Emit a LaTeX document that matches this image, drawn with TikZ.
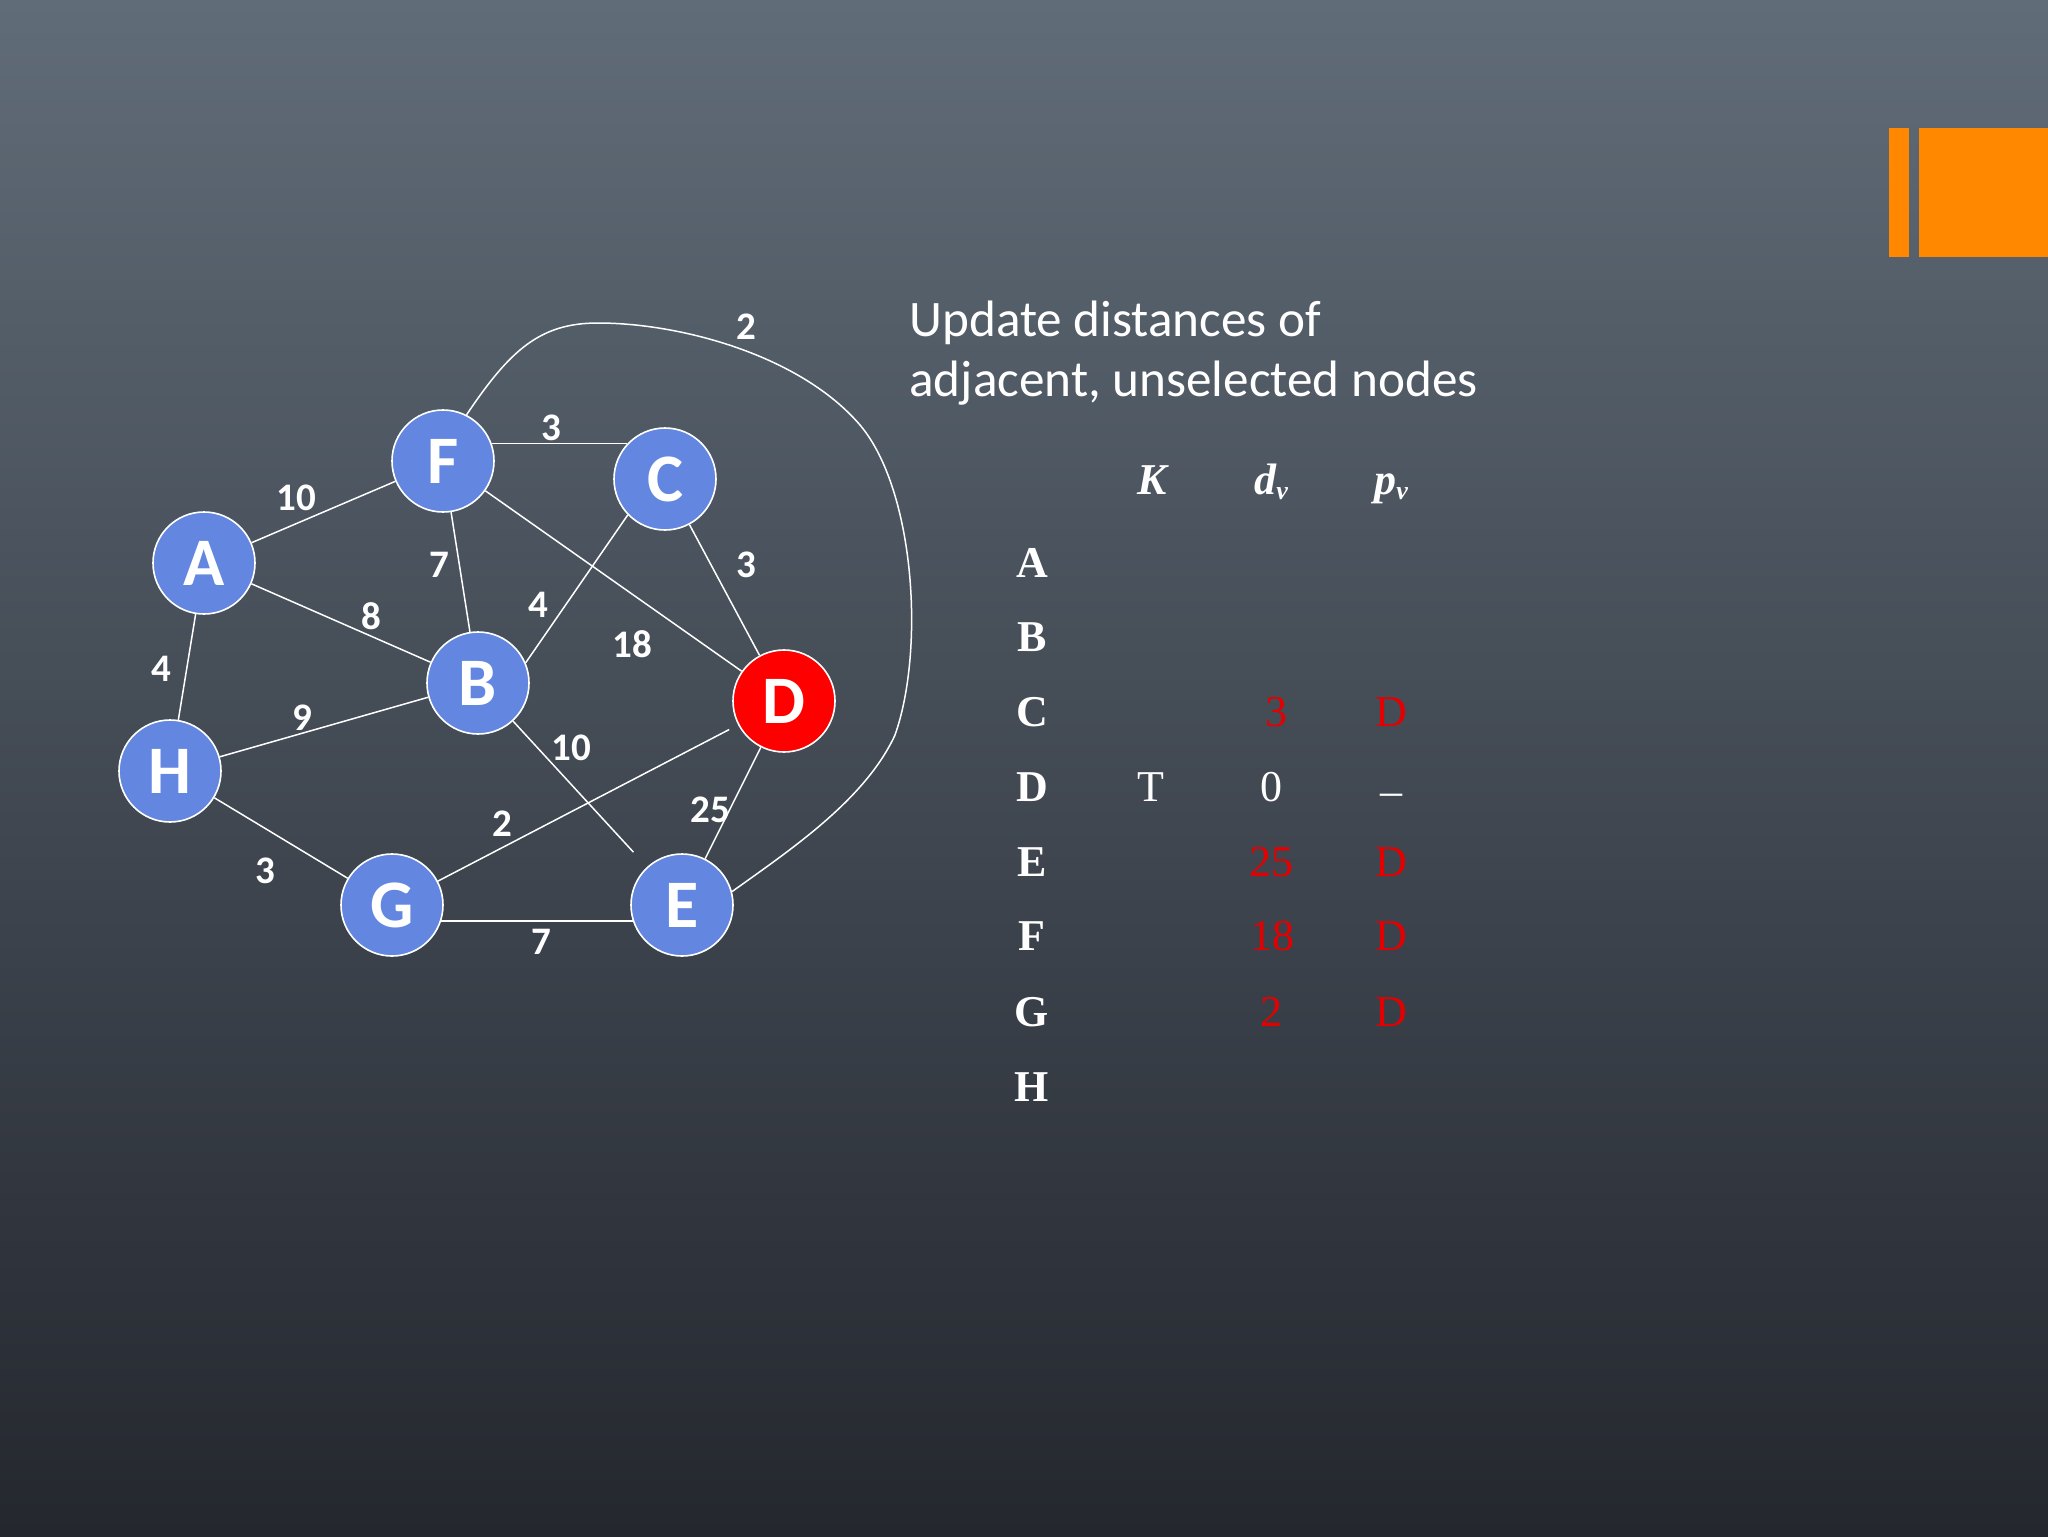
\documentclass[tikz,border=0pt]{standalone}
\usepackage{fontspec}
\setmainfont{Liberation Serif}
\newfontfamily\calib{Carlito}
\definecolor{bgtop}{RGB}{96,108,120}
\definecolor{bgmid}{RGB}{66,73,83}
\definecolor{bgbot}{RGB}{36,39,46}
\definecolor{nodeblue}{RGB}{99,135,224}
\definecolor{dred}{RGB}{255,0,0}
\definecolor{tred}{RGB}{228,0,0}
\definecolor{orng}{RGB}{255,136,0}
\begin{document}
\begin{tikzpicture}[x=0.5pt,y=-0.5pt,
 vtx/.style={circle,minimum size=51pt,inner sep=0pt,fill=nodeblue,draw=white,line width=0.8pt,text=white,font=\calib\bfseries\fontsize{34}{34}\selectfont},
 edge/.style={draw=white,line width=0.75pt},
 wt/.style={text=white,font=\calib\bfseries\fontsize{19.5}{19.5}\selectfont,inner sep=0pt},
 title/.style={text=white,font=\calib\fontsize{25.6}{25.6}\selectfont,anchor=base west,inner sep=0pt},
 rowlab/.style={text=white,font=\bfseries\fontsize{22}{22}\selectfont,anchor=base,inner sep=0pt},
 hdr/.style={text=white,font=\bfseries\itshape\fontsize{22}{22}\selectfont,anchor=base,inner sep=0pt},
 cell/.style={font=\fontsize{22}{22}\selectfont,anchor=base,inner sep=0pt}]
\useasboundingbox (0,0) rectangle (2048,1536);
\shade[top color=bgtop,middle color=bgmid,bottom color=bgbot] (0,0) rectangle (2048,1536);
% orange decoration
\fill[orng] (1889,128) rectangle (1909,257);
\fill[orng] (1919,128) rectangle (2048,257);
% vertices
\node[vtx] (F) at (443,461) {F};
\node[vtx] (C) at (665,479) {C};
\node[vtx] (A) at (204,563) {A};
\node[vtx] (B) at (478,683) {B};
\node[vtx,fill=dred] (D) at (784,701) {D};
\node[vtx] (H) at (170,771) {H};
\node[vtx] (G) at (392,905) {G};
\node[vtx] (E) at (682,905) {E};
% edges
\draw[edge] (A) -- (F);
\draw[edge] (F.20) -- (F.20 -| C.137);
\draw[edge] (F) -- (B);
\draw[edge] (F) -- (D);
\draw[edge] (A) -- (B);
\draw[edge] (C.-136) -- (B.23);
\draw[edge] (C) -- (D);
\draw[edge] (A) -- (H);
\draw[edge] (H) -- (B);
\draw[edge,shorten >=10pt] (B) -- (E);
\draw[edge] (D) -- (E);
\draw[edge,shorten >=5pt] (G) -- (D);
\draw[edge] (H) -- (G);
\draw[edge] (G.-18) -- (E.198);
\draw[edge] (F.63) .. controls (510,350) and (540,323) .. (598,323)
  .. controls (680,323) and (800,355) .. (860,425)
  .. controls (915,490) and (925,650) .. (895,735)
  .. controls (865,800) and (790,850) .. (E.15);
% weights
\node[wt] (wAF) at (296,498) {10};
\node[wt] (wFC) at (551,428) {3};
\node[wt] (wFE) at (746,327) {2};
\node[wt] (wFB) at (439,565) {7};
\node[wt] (wCD) at (746,565) {3};
\node[wt] (wAB) at (371,616) {8};
\node[wt] (wCB) at (538,605) {4};
\node[wt] (wFD) at (632,644) {18};
\node[wt] (wAH) at (161,669) {4};
\node[wt] (wHB) at (302,718) {9};
\node[wt] (wBE) at (571,748) {10};
\node[wt] (wDE) at (710,810) {25};
\node[wt] (wGD) at (502,824) {2};
\node[wt] (wHG) at (265,871) {3};
\node[wt] (wGE) at (541,942) {7};
% title
\node[title] (t1) at (909,336) {Update distances of};
\node[title] (t2) at (909,396) {adjacent, unselected nodes};
% table header
\node[hdr] (hK) at (1152,494) {K};
\node[hdr] (hd) at (1271,494) {d\raisebox{-0.25ex}{\fontsize{13}{13}\selectfont v}};
\node[hdr] (hp) at (1391,494) {p\raisebox{-0.25ex}{\fontsize{13}{13}\selectfont v}};
% row labels
\node[rowlab] (rA) at (1032,577) {A};
\node[rowlab] (rB) at (1032,651) {B};
\node[rowlab] (rC) at (1032,726) {C};
\node[rowlab] (rD) at (1032,801) {D};
\node[rowlab] (rE) at (1032,876) {E};
\node[rowlab] (rF) at (1032,950) {F};
\node[rowlab] (rG) at (1032,1026) {G};
\node[rowlab] (rH) at (1032,1101) {H};
% cells
\node[cell,text=tred] (dC) at (1276,726) {3};
\node[cell,text=tred] (pC) at (1391,726) {D};
\node[cell,text=white] (kD) at (1151,801) {T};
\node[cell,text=white] (dD) at (1271,801) {0};
\node[cell,text=white] (pD) at (1391,801) {\raisebox{-2pt}{–}};
\node[cell,text=tred] (dE) at (1271,876) {25};
\node[cell,text=tred] (pE) at (1391,876) {D};
\node[cell,text=tred] (dF) at (1272,950) {18};
\node[cell,text=tred] (pF) at (1391,950) {D};
\node[cell,text=tred] (dG) at (1271,1026) {2};
\node[cell,text=tred] (pG) at (1391,1026) {D};
\end{tikzpicture}
\end{document}
